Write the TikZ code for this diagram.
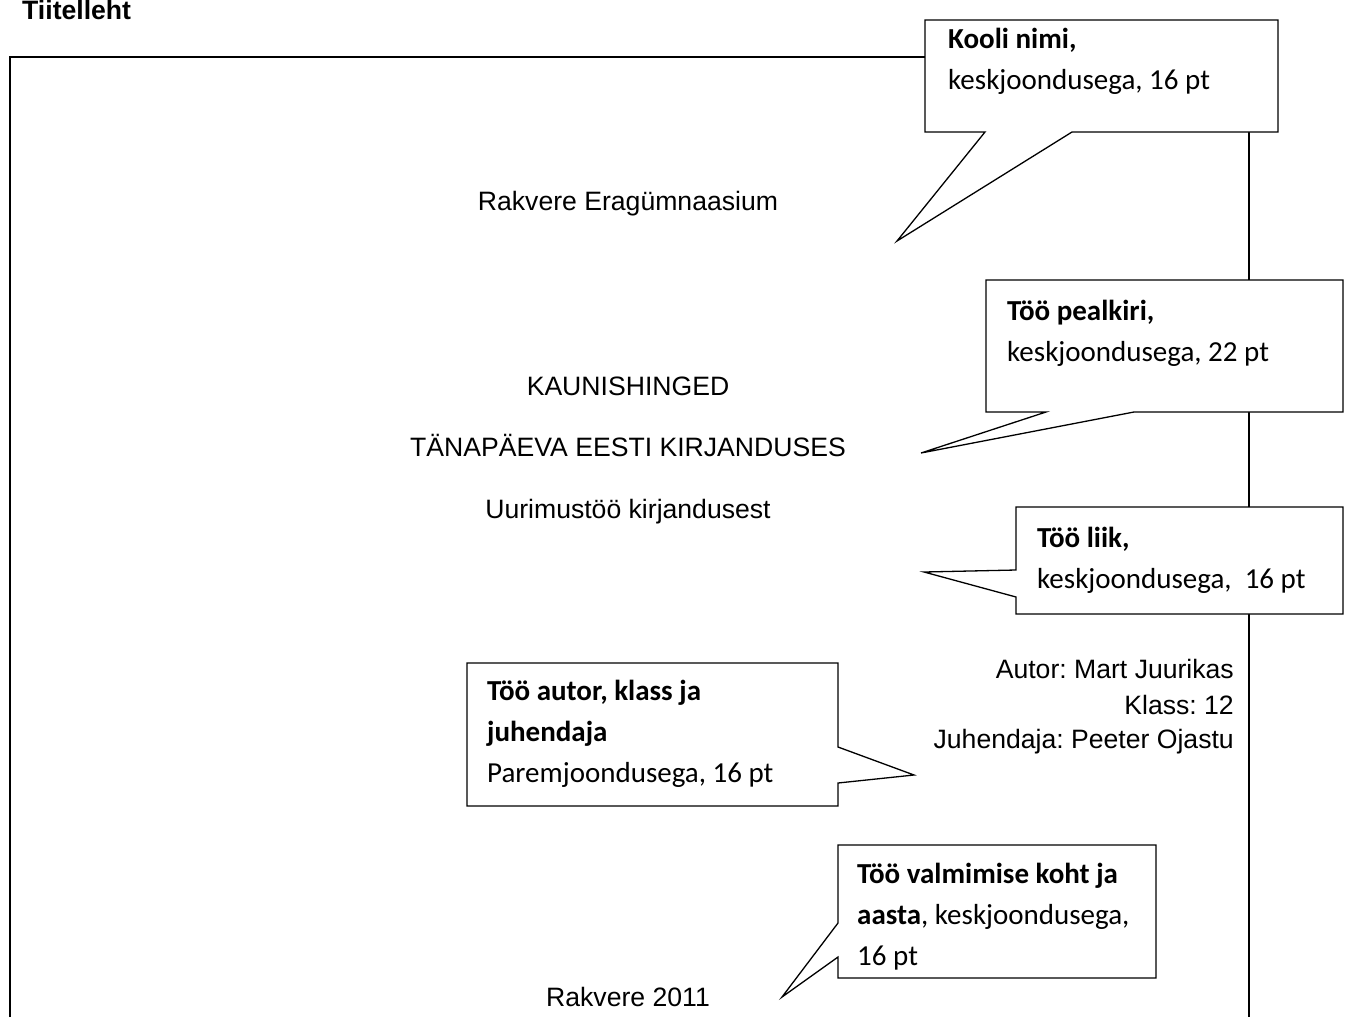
\documentclass[tikz,border=0pt]{standalone}
\usepackage{fontspec}
\setmainfont{Liberation Sans}
\newfontfamily\calibri{Carlito}
\usepackage{tikz}
\usetikzlibrary{positioning}
\frenchspacing

\begin{document}
\begin{tikzpicture}[
    x=1pt, y=-1pt,
    frame/.style = {black, line width=2pt},
    bubble/.style = {draw=black, fill=white, line width=1.3pt, line join=miter},
    page/.style = {inner sep=0pt, font=\fontsize{26.6}{32}\selectfont},
    note/.style = {inner sep=0pt, anchor=base west, align=left,
      font=\calibri\fontsize{29}{41}\selectfont}
    ]
    \useasboundingbox (0,0) rectangle (1348,1017);
    % Title
    \node[page, anchor=base west, font=\bfseries\fontsize{26.6}{32}\selectfont] (title) at (22,19) {Tiitelleht};
    % Page frame
    \coordinate (fbl) at (10,1017);
    \coordinate (ftl) at (10,57);
    \coordinate (ftr) at (1249,57);
    \coordinate (fbr) at (1249,1017);
    \draw[frame] (fbl) -- (ftl) -- (ftr) -- (fbr);
    % Page texts
    \node[page, anchor=base] (school) at (628,210) {Rakvere Eragümnaasium};
    \node[page, anchor=base] (head1) at (628,395) {KAUNISHINGED};
    \node[page, anchor=base] (head2) at (628,456) {TÄNAPÄEVA EESTI KIRJANDUSES};
    \node[page, anchor=base] (kind) at (628,518) {Uurimustöö kirjandusest};
    \node[page, anchor=base east] (author) at (1234,678) {Autor: Mart Juurikas};
    \node[page, anchor=base east] (class) at (1234,714) {Klass: 12};
    \node[page, anchor=base east] (tutor) at (1234,748) {Juhendaja: Peeter Ojastu};
    \node[page, anchor=base] (place) at (628,1006) {Rakvere 2011};
    % Callouts
    \draw[bubble] (925,20) -- (1278,20) -- (1278,132) -- (1072,132) -- (897,241) -- (985,132) -- (925,132) -- cycle;
    \draw[bubble] (986,280) -- (1343,280) -- (1343,412) -- (1134,412) -- (921,453) -- (1046,412) -- (986,412) -- cycle;
    \draw[bubble] (1016,507) -- (1343,507) -- (1343,614) -- (1016,614) -- (1016,597) -- (924,572) -- (1016,570) -- cycle;
    \draw[bubble] (467,663) -- (838,663) -- (838,747) -- (914,775) -- (838,783) -- (838,806) -- (467,806) -- cycle;
    \draw[bubble] (838,845) -- (1156,845) -- (1156,978) -- (838,978) -- (838,957) -- (782,997) -- (838,923) -- cycle;
    % Callout texts (base = last line)
    \node[note] (n1) at (948,89) {\textbf{Kooli nimi,}\\keskjoondusega, 16 pt};
    \node[note] (n2) at (1007,361) {\textbf{Töö pealkiri,}\\keskjoondusega, 22 pt};
    \node[note] (n3) at (1037,588) {\textbf{Töö liik,}\\keskjoondusega,\ \ 16 pt};
    \node[note] (n4) at (487,782) {\textbf{Töö autor, klass ja}\\\textbf{juhendaja}\\Paremjoondusega, 16 pt};
    \node[note] (n5) at (857,965) {\textbf{Töö valmimise koht ja}\\\textbf{aasta}, keskjoondusega,\\16 pt};
  \end{tikzpicture}
\end{document}
